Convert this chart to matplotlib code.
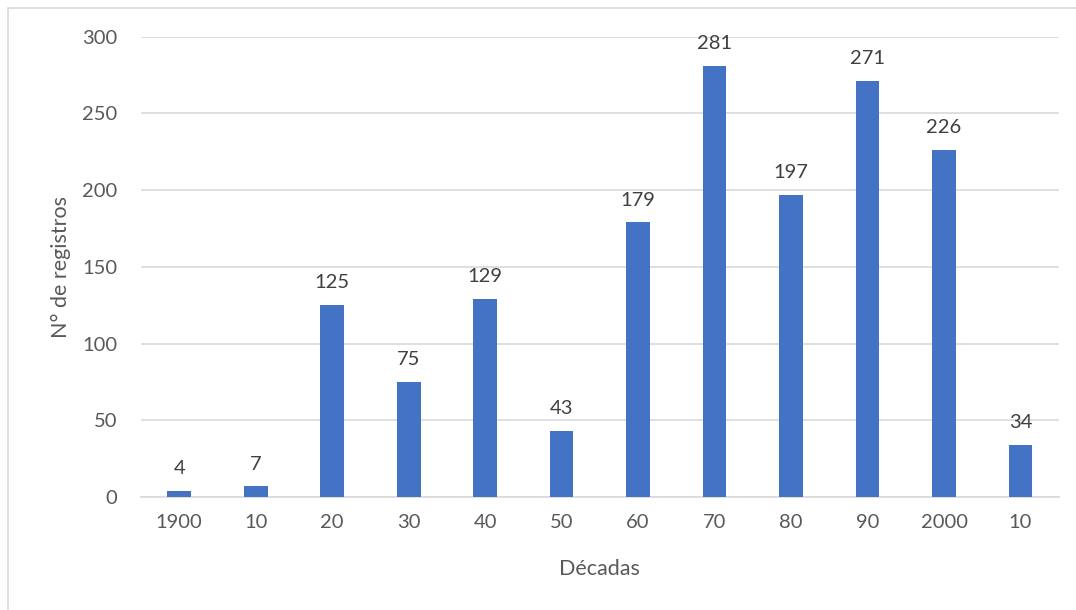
import matplotlib.pyplot as plt
from matplotlib.patches import Rectangle

decades = ['1900', '10', '20', '30', '40', '50', '60', '70', '80', '90', '2000', '10']
counts = [4, 7, 125, 75, 129, 43, 179, 281, 197, 271, 226, 34]

plt.rcParams['font.family'] = ['Lato', 'DejaVu Sans']

fig = plt.figure(figsize=(10.76, 6.10), dpi=100)
ax = fig.add_axes([0.131, 0.185, 0.853, 0.755])

# thin frame around the chart like the spreadsheet export
fig.patches.append(Rectangle((8 / 1076, -0.1), 1.2, (610 - 8) / 610 + 0.1,
                             transform=fig.transFigure, fill=False,
                             edgecolor='#d9d9d9', linewidth=1.2))

x = range(len(decades))
bars = ax.bar(x, counts, width=0.31, color='#4472c4', zorder=3)
for b, v in zip(bars, counts):
    ax.text(b.get_x() + b.get_width() / 2, v + 9, str(v), ha='center', va='bottom',
            fontsize=14.5, color='#404040')

ax.set_xlim(-0.5, len(decades) - 0.5)
ax.set_ylim(0, 300)
ax.set_yticks(range(0, 301, 50))
ax.set_xticks(list(x))
ax.set_xticklabels(decades)
ax.grid(axis='y', color='#d9d9d9', linewidth=1.2, zorder=0)
for s in ['top', 'right', 'left']:
    ax.spines[s].set_visible(False)
ax.spines['bottom'].set_color('#d9d9d9')
ax.spines['bottom'].set_linewidth(1.2)
ax.tick_params(length=0, labelsize=14.5, labelcolor='#595959')
ax.tick_params(axis='x', pad=12)
ax.tick_params(axis='y', pad=17)

ax.set_xlabel('Décadas', fontsize=15.5, color='#595959', labelpad=20)
ax.set_ylabel('N° de registros', fontsize=15.5, color='#595959', labelpad=8)

fig.savefig('out.png', dpi=100)
